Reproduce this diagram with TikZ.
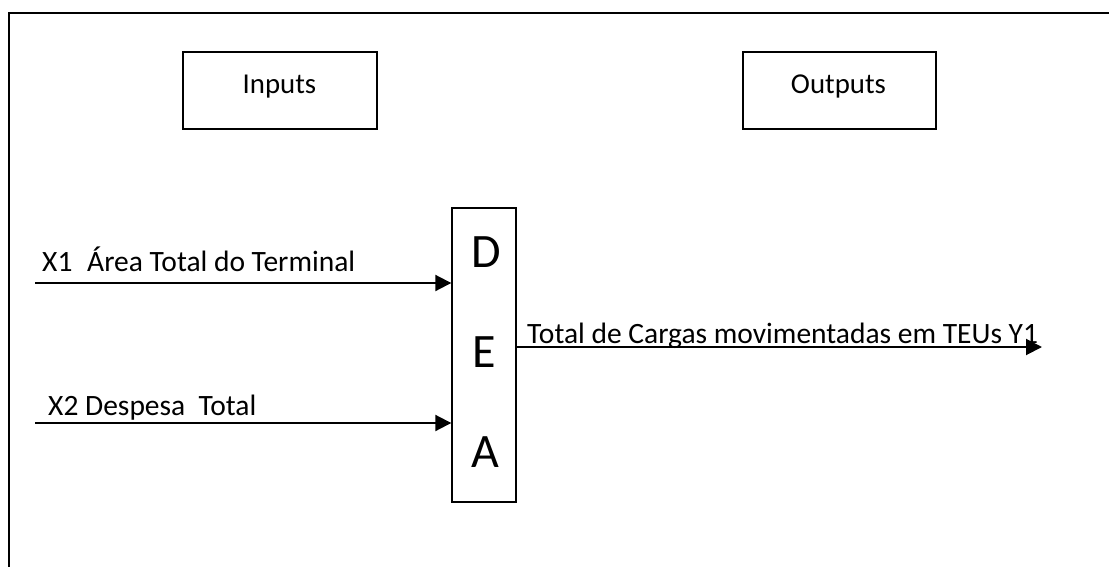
\documentclass[tikz,border=0pt]{standalone}
\usepackage{fontspec}
\setmainfont{Carlito}
\usetikzlibrary{arrows.meta}
\begin{document}
\begin{tikzpicture}[x=1pt,y=-1pt,
  frame/.style={line width=2pt},
  box/.style={draw,line width=1.4pt,inner sep=0pt},
  hdr/.style={inner sep=0pt,font=\fontsize{28.8}{30}\selectfont},
  lbl/.style={inner sep=0pt,font=\fontsize{29.5}{31}\selectfont},
  big/.style={inner sep=0pt,font=\fontsize{48}{50}\selectfont},
  arr/.style={line width=2pt,-{Triangle[length=16pt,width=16pt]}}]
\useasboundingbox (0,0) rectangle (1109,567);
% outer frame (cut at right and bottom)
\coordinate (ftr) at (1112,13);
\coordinate (ftl) at (9,13);
\coordinate (fbl) at (9,570);
\draw[frame] (ftr) -- (ftl) -- (fbl);
% header boxes
\node[box,minimum width=194pt,minimum height=77pt] (inbox) at (280,90.5) {};
\node[hdr,anchor=base] (intext) at (279.5,94) {Inputs};
\node[box,minimum width=193pt,minimum height=77pt] (outbox) at (839.5,90.5) {};
\node[hdr,anchor=base] (outtext) at (838.5,94) {Outputs};
% DEA box
\node[box,minimum width=64pt,minimum height=294pt] (dea) at (484,355) {};
\node[big] (d) at (486,252) {D};
\node[big] (e) at (484,352) {E};
\node[big] (a) at (485,452) {A};
% inputs
\coordinate (x1s) at (35,283);
\coordinate (x2s) at (35,423);
\draw[arr] (x1s) -- (x1s -| dea.west);
\draw[arr] (x2s) -- (x2s -| dea.west);
\node[lbl,anchor=base west] (x1t) at (42,271) {X1\hspace{0.5em}Área Total do Terminal};
\node[lbl,anchor=base west] (x2t) at (48,415) {X2 Despesa\hspace{0.45em}Total};
% output
\coordinate (y1e) at (1042,347);
\draw[arr] (y1e -| dea.east) -- (y1e);
\node[lbl,anchor=base west] (y1t) at (527,343) {Total de Cargas movimentadas em TEUs Y1};
\end{tikzpicture}
\end{document}
